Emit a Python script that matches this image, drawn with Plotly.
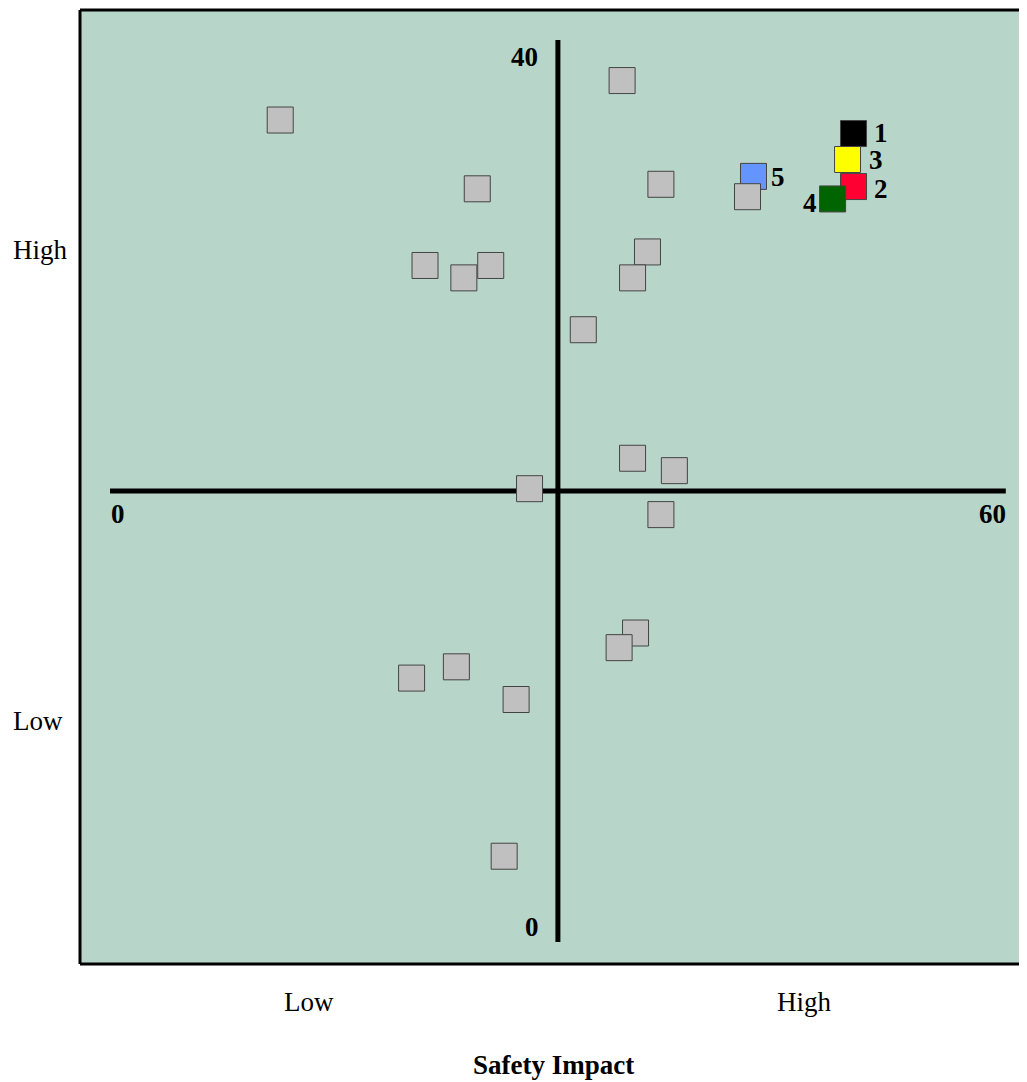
import plotly.graph_objects as go

# Data (Safety Impact on x, vertical scale 0-40)
gray_x = [11.4, 34.3, 24.6, 36.9, 42.7, 36.0, 21.1, 23.7, 25.5, 35.0, 31.7,
          35.0, 37.8, 28.1, 36.9, 35.2, 34.1, 23.2, 20.2, 27.2, 26.4]
gray_y = [36.45, 38.2, 33.4, 33.6, 33.05, 30.6, 30.0, 29.45, 30.0, 29.45, 27.15,
          21.45, 20.9, 20.1, 18.95, 13.7, 13.05, 12.2, 11.7, 10.75, 3.8]

hl_labels = ["1", "2", "3", "4", "5"]
hl_x = [49.8, 49.8, 49.4, 48.4, 43.1]
hl_y = [35.85, 33.5, 34.7, 32.95, 33.95]
hl_colors = ["#000000", "#ff0033", "#ffff00", "#006400", "#6495ff"]

axis_x_range = [0, 60]
axis_y_range = [0, 40]
axis_x_mid = 30
axis_y_mid = 20

x_cat_labels = ["Low", "High"]
x_cat_pos = [13.3, 46.5]
y_cat_labels = ["High", "Low"]
y_cat_pos = [30.7, 9.8]

FONT = "Liberation Serif, Times New Roman, serif"
FS = 27

fig = go.Figure()

# Cross axes
fig.add_trace(go.Scatter(x=axis_x_range, y=[axis_y_mid, axis_y_mid], mode="lines",
                         line=dict(color="black", width=5), hoverinfo="skip", showlegend=False))
fig.add_trace(go.Scatter(x=[axis_x_mid, axis_x_mid], y=axis_y_range, mode="lines",
                         line=dict(color="black", width=5), hoverinfo="skip", showlegend=False))

def add_marker(xs, ys, color):
    fig.add_trace(go.Scatter(x=xs, y=ys, mode="markers",
                             marker=dict(symbol="square", size=26, color=color,
                                         line=dict(color="#444444", width=1)),
                             showlegend=False))

# blue first so the gray one overlaps it
idx = {l: i for i, l in enumerate(hl_labels)}
add_marker([hl_x[idx["5"]]], [hl_y[idx["5"]]], hl_colors[idx["5"]])
add_marker(gray_x, gray_y, "#c0c0c0")
for l in ["1", "2", "3", "4"]:
    add_marker([hl_x[idx[l]]], [hl_y[idx[l]]], hl_colors[idx[l]])

# highlight labels
label_shift = {"1": 27, "2": 27, "3": 28, "4": -23, "5": 25}
label_yshift = {"1": 1, "2": -2, "3": -1, "4": -4, "5": -1}
for l in hl_labels:
    i = idx[l]
    fig.add_annotation(x=hl_x[i], y=hl_y[i], text=f"<b>{l}</b>", showarrow=False,
                       xshift=label_shift[l], yshift=label_yshift[l],
                       font=dict(family=FONT, size=FS, color="black"))

# axis end labels
fig.add_annotation(x=axis_x_range[0], y=axis_y_mid, text="<b>0</b>", showarrow=False,
                   xshift=8, yshift=-23, font=dict(family=FONT, size=FS, color="black"))
fig.add_annotation(x=axis_x_range[1], y=axis_y_mid, text="<b>60</b>", showarrow=False,
                   xshift=-13, yshift=-23, font=dict(family=FONT, size=FS, color="black"))
fig.add_annotation(x=axis_x_mid, y=axis_y_range[1], text="<b>40</b>", showarrow=False,
                   xshift=-33, yshift=-17, font=dict(family=FONT, size=FS, color="black"))
fig.add_annotation(x=axis_x_mid, y=axis_y_range[0], text="<b>0</b>", showarrow=False,
                   xshift=-26, yshift=15, font=dict(family=FONT, size=FS, color="black"))

# category labels
for t, xp in zip(x_cat_labels, x_cat_pos):
    fig.add_annotation(x=xp, y=0, xref="x", yref="paper", text=t, showarrow=False,
                       yshift=-38, yanchor="middle",
                       font=dict(family=FONT, size=FS, color="black"))
for t, yp in zip(y_cat_labels, y_cat_pos):
    fig.add_annotation(x=0, xref="paper", y=yp, yref="y", text=t, showarrow=False,
                       xanchor="left", xshift=-69,
                       font=dict(family=FONT, size=FS, color="black"))

fig.add_annotation(x=0.5, y=0, xref="paper", yref="paper", text="<b>Safety Impact</b>",
                   showarrow=False, yshift=-101, yanchor="middle",
                   font=dict(family=FONT, size=FS, color="black"))

# plot border (left, top, bottom)
border = dict(color="black", width=3)
fig.add_shape(type="line", xref="paper", yref="paper", x0=0, x1=0, y0=0, y1=1, line=border)
fig.add_shape(type="line", xref="paper", yref="paper", x0=0, x1=1.01, y0=1, y1=1, line=border)
fig.add_shape(type="line", xref="paper", yref="paper", x0=0, x1=1.01, y0=0, y1=0, line=border)

fig.update_layout(
    width=1019, height=1074,
    margin=dict(l=72, r=0, t=2, b=118),
    paper_bgcolor="white",
    plot_bgcolor="#b8d5ca",
    showlegend=False,
    xaxis=dict(range=[-2.01, 61.42], showgrid=False, zeroline=False,
               showticklabels=False, ticks="", fixedrange=True),
    yaxis=dict(range=[-0.98, 41.33], showgrid=False, zeroline=False,
               showticklabels=False, ticks="", fixedrange=True),
)

fig.write_html("out.html")
